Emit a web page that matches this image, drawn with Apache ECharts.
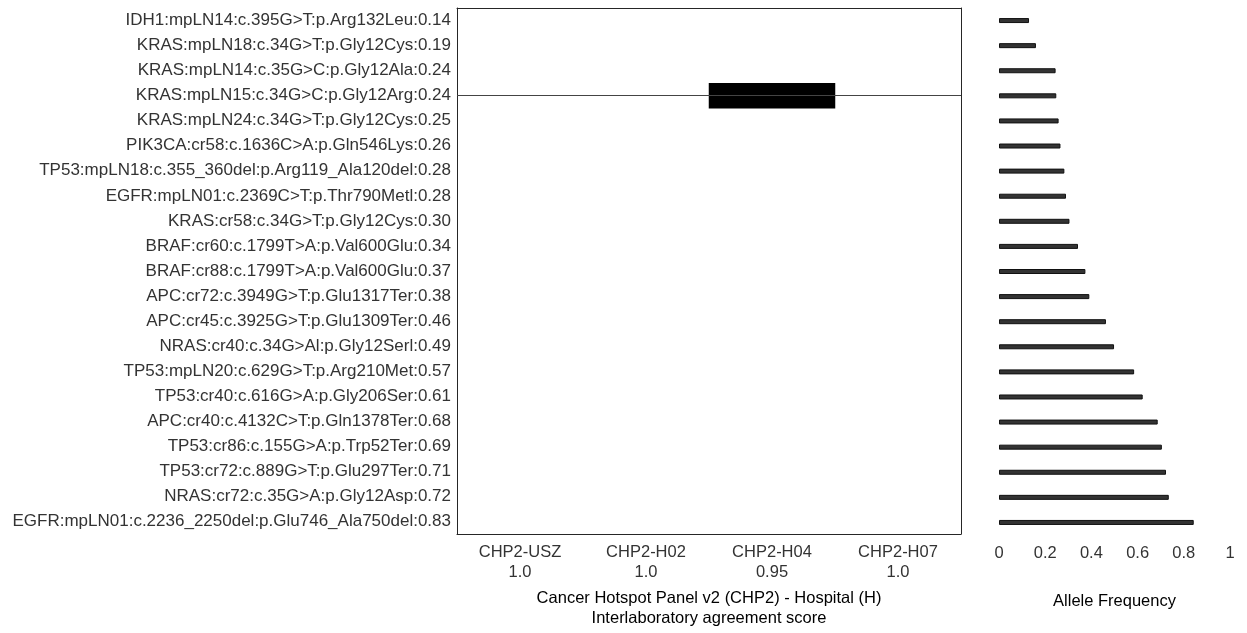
<!DOCTYPE html>
<html>
<head>
<meta charset="utf-8">
<script src="https://cdn.jsdelivr.net/npm/echarts@6/dist/echarts.min.js"></script>
<style>
  html, body { margin: 0; padding: 0; background: #fff; }
  #chart { width: 1247px; height: 633px; }
</style>
</head>
<body>
<div id="chart"></div>
<script>
// variants, top row first
var variants = [
  'IDH1:mpLN14:c.395G>T:p.Arg132Leu:0.14',
  'KRAS:mpLN18:c.34G>T:p.Gly12Cys:0.19',
  'KRAS:mpLN14:c.35G>C:p.Gly12Ala:0.24',
  'KRAS:mpLN15:c.34G>C:p.Gly12Arg:0.24',
  'KRAS:mpLN24:c.34G>T:p.Gly12Cys:0.25',
  'PIK3CA:cr58:c.1636C>A:p.Gln546Lys:0.26',
  'TP53:mpLN18:c.355_360del:p.Arg119_Ala120del:0.28',
  'EGFR:mpLN01:c.2369C>T:p.Thr790Metl:0.28',
  'KRAS:cr58:c.34G>T:p.Gly12Cys:0.30',
  'BRAF:cr60:c.1799T>A:p.Val600Glu:0.34',
  'BRAF:cr88:c.1799T>A:p.Val600Glu:0.37',
  'APC:cr72:c.3949G>T:p.Glu1317Ter:0.38',
  'APC:cr45:c.3925G>T:p.Glu1309Ter:0.46',
  'NRAS:cr40:c.34G>Al:p.Gly12Serl:0.49',
  'TP53:mpLN20:c.629G>T:p.Arg210Met:0.57',
  'TP53:cr40:c.616G>A:p.Gly206Ser:0.61',
  'APC:cr40:c.4132C>T:p.Gln1378Ter:0.68',
  'TP53:cr86:c.155G>A:p.Trp52Ter:0.69',
  'TP53:cr72:c.889G>T:p.Glu297Ter:0.71',
  'NRAS:cr72:c.35G>A:p.Gly12Asp:0.72',
  'EGFR:mpLN01:c.2236_2250del:p.Glu746_Ala750del:0.83'
];
// allele frequency bars
var alleleFreq = [0.13, 0.16, 0.245, 0.248, 0.258, 0.266, 0.283, 0.29, 0.305,
  0.342, 0.374, 0.391, 0.463, 0.498, 0.585, 0.622, 0.687, 0.705, 0.723, 0.735, 0.843];
var hospitals = ['CHP2-USZ', 'CHP2-H02', 'CHP2-H04', 'CHP2-H07'];
var agreement = ['1.0', '1.0', '0.95', '1.0'];
// [hospital index, variant index] of discordant calls
var discordant = [[2, 3]];

var axisColor = '#262626';
var textColor = '#333';
var font = 'Liberation Sans, Arial, Helvetica, sans-serif';

var cells = discordant.map(function (d) { return [d[0], d[1], 1]; });
var lines = discordant.map(function (d) { return { yAxis: variants[d[1]] }; });

var chart = echarts.init(document.getElementById('chart'), null, { renderer: 'canvas' });
var option = {
  animation: false,
  textStyle: { fontFamily: font },
  grid: [
    { left: 457, top: 8, width: 504, height: 527 },
    { left: 999, top: 8, width: 231, height: 527 }
  ],
  xAxis: [
    {
      gridIndex: 0, type: 'category', data: hospitals, position: 'bottom',
      axisLine: { lineStyle: { color: axisColor } },
      axisTick: { inside: true, alignWithLabel: true, length: 5, lineStyle: { color: axisColor } },
      axisLabel: {
        color: textColor, fontSize: 16.5, lineHeight: 20, margin: 8,
        formatter: function (v, i) { return v + '\n' + agreement[i]; }
      },
      name: 'Cancer Hotspot Panel v2 (CHP2) - Hospital (H)\nInterlaboratory agreement score',
      nameLocation: 'middle', nameGap: 54,
      nameTextStyle: { color: '#000', fontSize: 16.5, lineHeight: 20 }
    },
    {
      gridIndex: 0, type: 'category', data: hospitals, position: 'top',
      axisLine: { lineStyle: { color: axisColor } },
      axisTick: { inside: true, alignWithLabel: true, length: 5, lineStyle: { color: axisColor } },
      axisLabel: { show: false }
    },
    {
      gridIndex: 1, type: 'value', min: 0, max: 1, interval: 0.2, position: 'bottom',
      axisLine: { lineStyle: { color: axisColor } },
      axisTick: { inside: true, length: 5, lineStyle: { color: axisColor } },
      axisLabel: { color: textColor, fontSize: 16.5, margin: 10 },
      splitLine: { show: false },
      name: 'Allele Frequency', nameLocation: 'middle', nameGap: 56,
      nameTextStyle: { color: '#000', fontSize: 16.5, lineHeight: 20 }
    }
  ],
  yAxis: [
    {
      gridIndex: 0, type: 'category', data: variants, inverse: true, position: 'left',
      axisLine: { lineStyle: { color: axisColor } },
      axisTick: { inside: true, alignWithLabel: true, length: 5, lineStyle: { color: axisColor } },
      axisLabel: { color: textColor, fontSize: 17, margin: 6, interval: 0 }
    },
    {
      gridIndex: 0, type: 'category', data: variants, inverse: true, position: 'right',
      axisLine: { lineStyle: { color: axisColor } },
      axisTick: { inside: true, alignWithLabel: true, length: 5, lineStyle: { color: axisColor } },
      axisLabel: { show: false }
    },
    {
      gridIndex: 1, type: 'category', data: variants, inverse: true,
      axisLine: { show: false }, axisTick: { show: false }, axisLabel: { show: false }
    }
  ],
  series: [
    {
      type: 'heatmap', xAxisIndex: 0, yAxisIndex: 0, data: cells,
      itemStyle: { color: '#000' },
      markLine: {
        silent: true, symbol: 'none', data: lines,
        label: { show: false },
        lineStyle: { color: '#444', width: 1, type: 'solid' }
      }
    },
    {
      type: 'bar', xAxisIndex: 2, yAxisIndex: 2, data: alleleFreq,
      barWidth: 5,
      itemStyle: { color: '#333', borderColor: '#111', borderWidth: 1 }
    }
  ]
};
chart.setOption(option);
</script>
</body>
</html>
